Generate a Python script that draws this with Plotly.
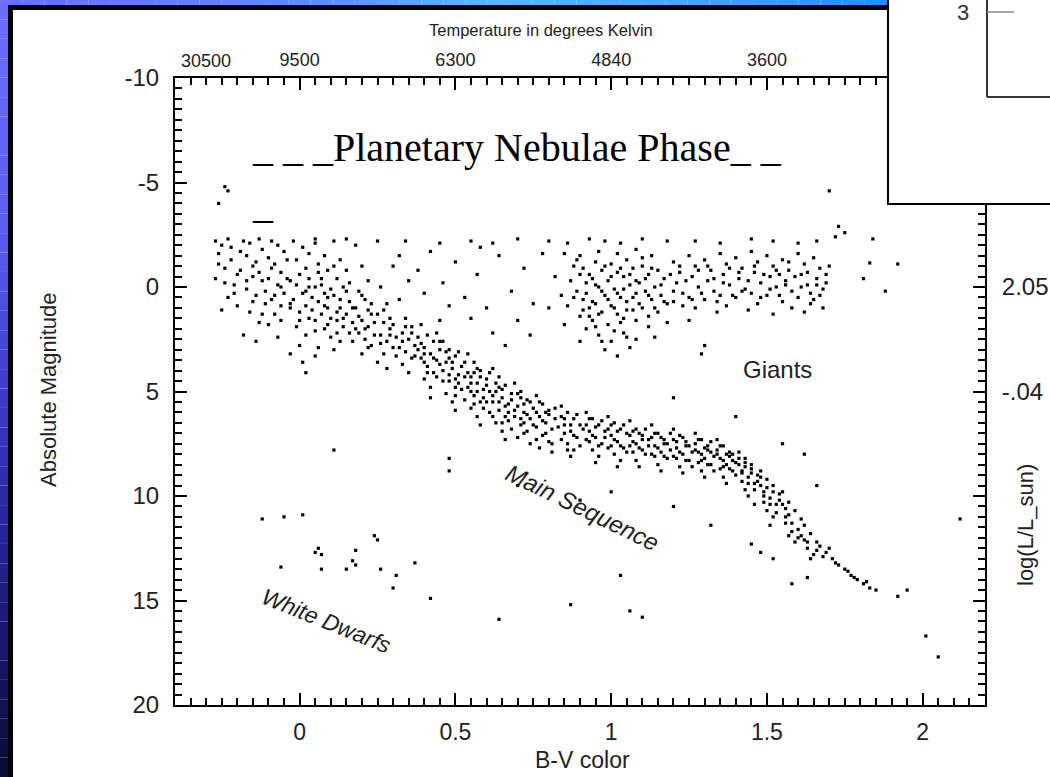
import plotly.graph_objects as go

# ---------------- data (B-V colour, absolute magnitude) ----------------
ms_stars = [
    (-0.27,-2.2),(-0.25,-2.0),(-0.23,-2.3),(-0.26,-1.6),(-0.22,-1.3),(-0.24,-0.9),(-0.27,-0.4),(-0.21,-0.1),(-0.23,0.5),(-0.25,1.1),(-0.22,-1.9),(-0.2,-0.6),
    (-0.18,-2.2),(-0.16,-2.1),(-0.13,-2.3),(-0.12,-1.8),(-0.17,-1.5),(-0.14,-1.2),(-0.19,-0.8),(-0.15,-0.5),(-0.12,-0.3),(-0.17,0.1),(-0.14,0.4),(-0.11,0.8),(-0.16,1.2),(-0.13,1.7),(-0.18,2.3),(-0.15,-1.0),
    (-0.09,-2.2),(-0.07,-2.0),(-0.05,-1.7),(-0.1,-1.4),(-0.08,-1.1),(-0.06,-0.7),(-0.1,-0.4),(-0.07,-0.1),(-0.05,0.3),(-0.09,0.6),(-0.06,0.9),(-0.08,1.3),(-0.1,1.8),(-0.07,2.4),(-0.04,-1.3),(-0.06,0.0),
    (-0.02,-2.2),(0.01,-1.9),(0.03,-1.6),(-0.01,-1.3),(0.02,-0.9),(0.0,-0.6),(-0.03,-0.3),(0.03,0.0),(0.01,0.3),(-0.02,0.6),(0.02,0.9),(0.0,1.2),(0.03,1.5),(-0.01,1.9),(0.02,2.3),(0.0,2.8),(0.01,3.6),(-0.03,1.0),(0.04,0.5),(0.03,-0.4),
    (0.05,-2.1),(0.08,-1.5),(0.06,-1.1),(0.09,-0.8),(0.07,-0.4),(0.05,0.0),(0.08,0.3),(0.06,0.7),(0.09,1.0),(0.07,1.3),(0.05,1.6),(0.08,2.0),(0.1,2.4),(0.06,2.9),(0.09,0.5),(0.07,-0.1),(0.1,1.5),
    (0.11,-2.2),(0.13,-1.3),(0.15,-0.8),(0.12,-0.4),(0.14,0.0),(0.11,0.4),(0.16,0.7),(0.13,1.0),(0.15,1.3),(0.12,1.6),(0.14,1.9),(0.16,2.2),(0.13,2.6),(0.11,3.0),(0.15,0.2),(0.12,1.2),(0.17,1.7),
    (0.18,-2.0),(0.2,-1.0),(0.22,-0.3),(0.19,0.2),(0.21,0.6),(0.18,1.0),(0.23,1.3),(0.2,1.6),(0.22,1.9),(0.19,2.2),(0.21,2.5),(0.23,2.8),(0.2,3.2),(0.18,2.0),(0.22,1.1),(0.24,2.3),
    (0.25,-2.2),(0.26,0.0),(0.28,0.8),(0.25,1.3),(0.27,1.7),(0.29,2.0),(0.26,2.3),(0.28,2.6),(0.3,2.9),(0.27,3.2),(0.25,3.6),(0.29,1.5),(0.31,2.4),(0.28,3.9),
    (0.32,0.6),(0.34,1.5),(0.36,1.9),(0.33,2.2),(0.35,2.5),(0.37,2.8),(0.34,3.1),(0.36,3.4),(0.33,3.7),(0.35,4.1),(0.38,2.4),(0.32,2.9),(0.37,3.3),(0.34,-2.2),
    (0.39,1.8),(0.41,2.3),(0.43,2.6),(0.4,2.9),(0.42,3.2),(0.44,3.5),(0.41,3.8),(0.43,4.1),(0.4,4.4),(0.42,4.8),(0.45,3.0),(0.39,3.4),(0.44,2.2),(0.42,5.3),(0.4,3.6),
    (0.46,2.6),(0.48,3.0),(0.5,3.3),(0.47,3.6),(0.49,3.9),(0.51,4.2),(0.48,4.5),(0.5,4.8),(0.47,5.1),(0.49,5.5),(0.52,3.8),(0.46,4.0),(0.51,4.6),(0.48,3.4),(0.5,5.9),(0.53,4.3),
    (0.54,3.2),(0.56,3.6),(0.58,4.0),(0.55,4.3),(0.57,4.6),(0.59,4.9),(0.56,5.2),(0.58,5.5),(0.55,5.8),(0.57,6.2),(0.6,4.4),(0.54,4.8),(0.59,5.3),(0.56,4.1),(0.58,6.6),(0.61,5.0),(0.55,5.0),
    (0.62,3.9),(0.64,4.3),(0.66,4.7),(0.63,5.0),(0.65,5.3),(0.67,5.6),(0.64,5.9),(0.66,6.2),(0.63,6.5),(0.65,6.9),(0.68,5.1),(0.62,5.5),(0.67,6.0),(0.64,4.8),(0.66,7.3),(0.61,6.0),
    (0.69,4.6),(0.71,5.0),(0.73,5.4),(0.7,5.7),(0.72,6.0),(0.74,6.3),(0.71,6.6),(0.73,6.9),(0.7,7.2),(0.75,5.8),(0.69,6.2),(0.72,6.5),(0.74,7.5),(0.71,5.3),
    (0.76,5.2),(0.78,5.6),(0.8,5.9),(0.77,6.2),(0.79,6.5),(0.81,6.8),(0.78,7.1),(0.8,7.4),(0.77,7.7),(0.82,6.3),(0.76,6.7),(0.79,6.0),(0.81,7.9),
    (0.84,5.7),(0.86,6.0),(0.88,6.3),(0.85,6.6),(0.87,6.9),(0.89,7.2),(0.86,7.5),(0.88,7.8),(0.85,7.0),(0.9,6.6),(0.84,6.2),(0.87,8.1),
    (0.92,6.0),(0.94,6.3),(0.96,6.6),(0.93,6.9),(0.95,7.2),(0.97,7.5),(0.94,7.8),(0.96,8.1),(0.93,7.4),(0.98,6.9),(0.92,6.6),(0.95,8.4),
    (0.99,6.2),(1.01,6.5),(1.03,6.8),(1.0,7.1),(1.02,7.4),(1.04,7.7),(1.01,8.0),(1.03,8.3),(1.0,7.6),(1.05,7.0),(0.99,6.8),(1.02,8.6),
    (1.06,6.4),(1.08,6.8),(1.1,7.1),(1.07,7.4),(1.09,7.7),(1.11,8.0),(1.08,8.3),(1.1,7.3),(1.07,7.9),(1.12,7.6),(1.06,7.1),(1.09,8.6),
    (1.13,6.6),(1.15,7.0),(1.17,7.3),(1.14,7.6),(1.16,7.9),(1.18,8.2),(1.15,8.5),(1.17,7.5),(1.14,8.1),(1.19,7.8),(1.13,7.2),(1.16,8.8),
    (1.2,6.8),(1.22,7.1),(1.24,7.4),(1.21,7.7),(1.23,8.0),(1.25,8.3),(1.22,8.6),(1.24,7.6),(1.21,8.2),(1.26,7.9),(1.2,7.3),(1.23,8.9),
    (1.27,7.0),(1.29,7.3),(1.31,7.6),(1.28,7.9),(1.3,8.2),(1.32,8.5),(1.29,8.8),(1.31,7.8),(1.28,8.4),(1.33,8.1),(1.27,7.5),(1.3,9.1),(1.32,7.4),(1.29,8.0),
    (1.34,7.3),(1.36,7.6),(1.38,7.9),(1.35,8.2),(1.37,8.5),(1.39,8.8),(1.36,9.1),(1.38,8.1),(1.35,8.7),(1.4,8.4),(1.34,7.8),(1.37,9.4),(1.39,8.0),(1.36,8.3),
    (1.41,7.9),(1.43,8.2),(1.45,8.5),(1.42,8.8),(1.44,9.1),(1.46,9.4),(1.43,9.7),(1.45,8.9),(1.42,9.3),(1.47,9.0),(1.41,8.5),(1.44,10.0),(1.46,10.4),(1.43,8.6),
    (1.48,8.8),(1.5,9.2),(1.52,9.5),(1.49,9.8),(1.51,10.1),(1.53,10.4),(1.5,10.7),(1.52,11.0),(1.49,10.3),(1.54,9.9),(1.48,9.5),(1.51,11.4),
    (1.55,9.8),(1.57,10.3),(1.59,10.7),(1.56,11.0),(1.58,11.3),(1.6,11.6),(1.57,11.9),(1.59,12.2),(1.56,10.6),(1.61,11.1),
    (1.62,11.4),(1.64,11.8),(1.66,12.2),(1.63,12.5),(1.65,12.8),(1.67,12.4),(1.64,13.0),(1.62,12.1),
    (1.69,12.7),(1.71,13.0),(1.73,13.3),(1.7,12.5),(1.75,13.5),(1.77,13.8),(1.79,14.0),(1.76,13.6),(1.81,14.2),(1.83,14.4),(1.85,14.5),(1.82,14.1),
]

ms_extra = [
    (-0.26,-1.1),(-0.24,-0.2),(-0.21,0.3),(-0.19,-1.7),(-0.2,0.9),(-0.17,-0.3),(-0.15,0.7),(-0.13,-0.7),(-0.11,0.2),(-0.12,1.3),
    (-0.09,-0.9),(-0.08,0.4),(-0.06,1.6),(-0.04,-0.4),(-0.03,0.8),(-0.01,-0.1),(0.0,1.6),(0.02,0.2),(0.04,1.1),(0.05,2.1),
    (0.06,-0.7),(0.08,0.9),(0.09,1.8),(0.1,0.1),(0.11,-1.0),(0.12,2.2),(0.13,0.6),(0.14,1.5),(0.16,-0.2),(0.17,1.0),
    (0.17,2.6),(0.19,1.4),(0.2,0.4),(0.21,2.0),(0.22,2.9),(0.23,0.8),(0.24,1.7),(0.26,2.7),(0.27,1.1),(0.29,2.3),
    (0.3,1.8),(0.31,3.3),(0.33,2.6),(0.34,1.9),(0.36,2.2),(0.38,3.0),(-0.03,3.2),(0.05,3.3),(-0.14,2.6),(0.02,4.1),
    (0.39,2.7),(0.4,3.2),(0.41,4.1),(0.43,3.4),(0.44,4.3),(0.45,2.6),(0.45,3.7),(0.46,4.5),(0.47,3.1),(0.48,4.2),
    (0.49,3.6),(0.5,4.4),(0.5,5.2),(0.51,3.1),(0.52,4.9),(0.53,3.6),(0.53,5.4),(0.54,4.1),(0.55,4.6),(0.56,5.6),
    (0.57,3.9),(0.57,5.0),(0.58,4.3),(0.59,5.8),(0.6,4.7),(0.6,5.5),(0.61,4.1),(0.62,5.2),(0.62,6.2),(0.63,4.6),
    (0.64,5.5),(0.65,6.5),(0.65,4.9),(0.66,5.7),(0.67,6.4),(0.68,5.4),(0.68,6.8),(0.69,5.9),(0.7,5.1),(0.71,6.3),
    (0.72,5.6),(0.72,7.0),(0.73,6.1),(0.74,5.5),(0.75,6.6),(0.76,6.0),(0.76,7.3),(0.77,5.5),(0.78,6.4),(0.79,7.0),
    (0.8,6.1),(0.81,7.5),(0.82,5.8),(0.83,6.7),(0.84,7.3),(0.85,6.3),(0.86,7.8),(0.87,6.6),(0.88,7.1),(0.89,6.1),
    (0.9,7.6),(0.91,6.8),(0.92,7.3),(0.93,6.3),(0.94,7.1),(0.95,6.7),(0.96,7.6),(0.97,6.4),(0.98,7.2),(0.99,7.7),
    (1.0,6.6),(1.01,7.3),(1.02,6.9),(1.03,7.6),(1.04,6.6),(1.05,7.9),(1.06,7.6),(1.07,6.9),(1.08,7.5),(1.09,7.0),
    (1.1,7.8),(1.11,6.8),(1.12,7.3),(1.13,8.0),(1.14,7.0),(1.15,7.7),(1.16,7.2),(1.17,8.1),(1.18,7.5),(1.19,7.0),
    (1.2,8.1),(1.21,7.4),(1.22,7.9),(1.23,7.2),(1.24,8.3),(1.25,7.6),(1.26,8.6),(1.27,7.8),(1.28,7.3),(1.29,8.3),
    (1.3,7.7),(1.31,8.5),(1.32,7.9),(1.33,8.8),(1.34,8.0),(1.35,7.6),(1.36,8.6),(1.37,8.0),(1.38,8.7),(1.39,8.3),
    (1.4,9.0),(1.41,8.2),(1.42,8.9),(1.43,8.4),(1.44,9.4),(1.45,8.7),(1.46,9.7),(1.47,9.3),(1.48,9.1),(1.49,10.0),
    (1.5,9.6),(1.51,10.4),(1.52,9.8),(1.53,10.8),(1.54,10.2),(1.55,10.4),(1.56,11.3),(1.57,10.9),(1.58,11.7),(1.6,12.0),
    (1.61,11.9),(1.63,12.2),(1.66,12.6),(1.68,12.9),(1.72,13.2),(1.78,13.9),
]

giant_stars = [
    (0.55,-2.2),(0.62,-2.1),(0.7,-2.3),(0.8,-2.2),(0.86,-2.1),(0.93,-2.3),(0.98,-2.2),(1.03,-2.1),(1.1,-2.3),(1.18,-2.2),
    (1.27,-2.2),(1.35,-2.1),(1.45,-2.3),(1.52,-2.2),(1.6,-2.1),(1.66,-2.2),(1.72,-2.4),(0.45,-2.1),(0.15,-2.3),(0.05,-2.3),
    (0.88,-1.0),(0.9,-0.6),(0.92,-0.2),(0.89,0.2),(0.91,0.6),(0.93,1.0),(0.9,1.4),(0.95,-1.2),(0.97,-0.8),(0.94,-0.4),
    (0.96,0.0),(0.98,0.4),(0.95,0.8),(0.97,1.2),(0.94,1.6),(1.0,-1.1),(1.02,-0.7),(0.99,-0.3),(1.01,0.1),(1.03,0.5),
    (1.0,0.9),(1.02,1.3),(0.99,1.8),(1.05,-1.3),(1.07,-0.9),(1.04,-0.5),(1.06,-0.1),(1.08,0.3),(1.05,0.7),(1.07,1.1),
    (1.04,1.5),(1.1,-1.0),(1.12,-0.6),(1.09,-0.2),(1.11,0.2),(1.13,0.6),(1.1,1.0),(1.12,1.4),(1.15,-0.8),(1.17,-0.4),
    (1.14,0.0),(1.16,0.4),(1.18,0.8),(1.15,1.2),
    (0.92,2.0),(0.96,2.3),(1.0,2.6),(1.04,2.2),(1.08,2.5),(0.98,3.0),(1.06,2.9),(1.02,3.3),(0.9,2.6),(1.12,1.9),
    (0.85,1.8),(1.14,2.4),(1.3,2.8),(1.29,3.2),
    (0.85,-1.6),(0.9,-1.5),(0.96,-1.7),(1.02,-1.6),(1.08,-1.8),(1.13,-1.5),(0.82,-0.5),(0.84,0.4),(0.8,1.0),(0.86,0.9),
    (1.2,-1.2),(1.22,-0.7),(1.21,-0.2),(1.23,0.3),(1.2,0.7),(1.25,-1.5),(1.27,-1.0),(1.26,-0.5),(1.28,0.0),(1.25,0.5),
    (1.27,1.0),(1.3,-1.3),(1.32,-0.8),(1.31,-0.3),(1.33,0.2),(1.3,0.6),(1.35,-1.6),(1.37,-1.1),(1.36,-0.6),(1.38,-0.1),
    (1.35,0.4),(1.37,0.9),(1.4,-1.4),(1.42,-0.9),(1.41,-0.4),(1.43,0.1),(1.4,0.5),(1.45,-1.7),(1.47,-1.2),(1.46,-0.7),
    (1.48,-0.2),(1.45,0.3),(1.47,0.8),(1.5,-1.5),(1.52,-1.0),(1.51,-0.5),(1.53,0.0),(1.5,0.4),(1.55,-1.3),(1.57,-0.8),
    (1.56,-0.3),(1.58,0.2),(1.55,0.7),(1.6,-1.6),(1.62,-1.1),(1.61,-0.6),(1.63,-0.1),(1.6,0.5),(1.65,-1.4),(1.67,-0.9),
    (1.66,-0.4),(1.68,0.1),(1.65,0.6),(1.7,-1.0),(1.69,-0.2),(1.62,1.2),(1.68,1.0),(1.58,1.0),(1.52,1.3),(1.44,1.1),
    (1.34,1.2),(1.25,1.6),(1.18,1.7),(1.64,0.3),(1.54,-0.6),
]

giant_extra = [
    (0.87,-0.3),(0.88,0.5),(0.89,-1.3),(0.91,-0.9),(0.91,1.1),(0.92,0.3),(0.93,-0.6),(0.94,0.7),(0.95,-0.1),(0.96,1.3),
    (0.97,0.2),(0.98,-1.0),(0.99,0.6),(1.0,-0.5),(1.01,1.0),(1.02,0.3),(1.03,-0.9),(1.04,0.1),(1.05,1.1),(1.06,-0.6),
    (1.07,0.5),(1.08,-0.3),(1.09,0.8),(1.1,-1.4),(1.11,-0.4),(1.12,0.4),(1.13,-0.9),(1.14,1.0),(1.16,-0.1),(1.17,0.7),
    (1.19,-0.6),(1.2,0.2),(1.22,-1.0),(1.23,0.9),(1.24,-0.3),(1.26,0.6),(1.28,-0.8),(1.29,0.3),(1.31,-1.0),(1.33,-0.4),
    (1.34,0.7),(1.36,-0.2),(1.38,-0.9),(1.39,0.4),(1.41,-0.7),(1.42,0.2),(1.44,-0.3),(1.46,-1.0),(1.48,0.5),(1.49,-0.6),
    (1.51,0.1),(1.53,-0.8),(1.54,0.4),(1.56,-0.1),(1.57,-1.2),(1.59,-0.5),(1.61,0.0),(1.63,-0.7),(1.64,0.8),(1.66,-0.1),
    (1.67,0.4),(1.69,-0.6),(0.95,1.9),(1.01,2.1),(1.03,1.7),(0.93,1.4),(1.08,1.6),(0.97,2.6),(1.05,2.4),
]

field_stars = [
    (0.32,-1.5),(0.38,-0.8),(0.42,-1.7),(0.46,-0.2),(0.5,-1.2),(0.53,0.5),(0.57,-0.6),(0.6,1.0),(0.64,-1.5),(0.68,0.2),
    (0.72,-0.9),(0.75,0.8),(0.78,-1.6),(0.7,1.6),(0.62,2.2),(0.55,1.5),(0.48,0.9),(0.4,0.3),(0.35,-0.3),(0.45,1.6),
    (0.66,2.8),(0.74,2.3),(0.58,-1.9),(0.3,-1.0),
    (-0.26,-4.0),(-0.24,-4.8),(-0.23,-4.6),
    (1.84,-2.3),(1.83,-1.15),(1.92,-1.1),(1.81,-0.4),(1.88,0.2),(1.7,-4.6),(1.73,-2.9),(1.75,-2.6),
    (0.11,7.8),(0.48,8.2),(0.48,8.8),(0.7,9.5),(0.9,10.2),(1.0,9.8),(1.2,10.5),(1.32,11.4),(1.48,12.7),(1.45,12.3),
    (1.52,13.0),(1.58,14.2),(1.63,13.9),(1.2,5.3),(1.4,6.2),(1.55,7.5),(1.62,8.0),(1.66,9.5),
    (0.64,15.9),(0.87,15.2),(1.06,15.5),(1.1,15.8),(1.03,13.8),(2.12,11.1),(1.95,14.5),(1.92,14.8),(2.01,16.7),(2.05,17.7),
]

dwarf_stars = [
    (-0.12,11.1),(-0.05,11.0),(0.01,10.9),(0.06,12.5),(0.07,12.8),(0.24,11.9),(0.25,12.1),(0.05,12.7),(0.18,12.6),
    (-0.06,13.4),(0.07,13.5),(0.15,13.5),(0.17,13.1),(0.18,13.3),(0.26,13.5),(0.31,13.8),(0.3,14.4),(0.37,13.2),(0.42,14.9),
]

x_ticks = [0, 0.5, 1, 1.5, 2]
x_tick_text = ["0", "0.5", "1", "1.5", "2"]
y_ticks = [-10, -5, 0, 5, 10, 15, 20]
y_tick_text = ["-10", "-5", "0", "5", "10", "15", "20"]
lum_ticks = [-10, -5, 0, 5, 10, 15, 20]
lum_tick_text = ["", "", "2.05", "-.04", "", "", ""]
temp_ticks = [0, 0.5, 1, 1.5, 2]
temp_tick_text = ["9500", "6300", "4840", "3600", ""]
temp_extra = (-0.3, "30500")

# ---------------- layout geometry ----------------
W, H = 1050, 777
ML, MR, MT, MB = 175, 65, 78, 72
PW = W - ML - MR
PH = H - MT - MB

def px(xp):
    return (xp - ML) / PW

def py(yp):
    return (H - MB - yp) / PH

all_stars = ms_stars + ms_extra + giant_stars + giant_extra + field_stars + dwarf_stars
bv = [s[0] for s in all_stars]
mag = [s[1] for s in all_stars]

fig = go.Figure()
fig.add_trace(go.Scatter(
    x=bv, y=mag, mode="markers",
    marker=dict(symbol="square", size=3.2, color="black", line=dict(width=0)),
    showlegend=False, hoverinfo="skip"))
fig.add_trace(go.Scatter(x=[None], y=[None], xaxis="x2", yaxis="y2",
                         mode="markers", showlegend=False, hoverinfo="skip"))

font_main = "Liberation Sans, Arial, sans-serif"
axis_common = dict(showline=True, linecolor="black", linewidth=2, ticks="inside",
                   ticklen=12, tickwidth=2, tickcolor="black", showgrid=False,
                   zeroline=False, automargin=False)
minor_x = dict(ticks="inside", ticklen=7, tickwidth=1.5, tickcolor="black",
               tickmode="linear", tick0=0, dtick=0.05)
minor_y = dict(ticks="inside", ticklen=7, tickwidth=1.5, tickcolor="black",
               tickmode="linear", tick0=0, dtick=0.5)

fig.update_layout(
    width=W, height=H, autosize=False,
    margin=dict(l=ML, r=MR, t=MT, b=MB, pad=0, autoexpand=False),
    paper_bgcolor="white", plot_bgcolor="white",
    font=dict(family=font_main, color="#222"),
    xaxis=dict(range=[-0.4, 2.2], tickmode="array", tickvals=x_ticks, ticktext=x_tick_text,
               tickfont=dict(size=23, color="#222"), ticklabelstandoff=5,
               minor=minor_x, **axis_common),
    xaxis2=dict(range=[-0.4, 2.2], overlaying="x", side="top", tickmode="array",
                tickvals=temp_ticks, ticktext=temp_tick_text,
                tickfont=dict(size=18, color="#222"), ticklabelstandoff=3,
                minor=minor_x, **axis_common),
    yaxis=dict(range=[20, -10], tickmode="array", tickvals=y_ticks, ticktext=y_tick_text,
               tickfont=dict(size=24, color="#222"), ticklabelstandoff=9,
               minor=minor_y, **axis_common),
    yaxis2=dict(range=[20, -10], overlaying="y", side="right", tickmode="array",
                tickvals=lum_ticks, ticktext=lum_tick_text,
                tickfont=dict(size=24, color="#222"), ticklabelstandoff=10,
                minor=minor_y, **axis_common),
)

# ---------------- decorative frame ----------------
def lerp_color(stops, t):
    for (t0, c0), (t1, c1) in zip(stops[:-1], stops[1:]):
        if t0 <= t <= t1:
            f = (t - t0) / (t1 - t0) if t1 > t0 else 0
            return "rgb(%d,%d,%d)" % tuple(round(a + (b - a) * f) for a, b in zip(c0, c1))
    return "rgb(%d,%d,%d)" % stops[-1][1]

def pshape(**kw):
    d = dict(xref="paper", yref="paper", layer="above")
    d.update(kw)
    return d

shapes = []
left_stops = [(0, (108, 110, 255)), (0.3, (92, 92, 245)), (0.5, (62, 60, 205)),
              (0.7, (38, 34, 150)), (1.0, (10, 10, 52))]
nb = 40
for i in range(nb):
    y0 = H * i / nb
    y1 = H * (i + 1) / nb
    shapes.append(pshape(type="rect", x0=px(0), x1=px(8), y0=py(y1), y1=py(y0),
                         fillcolor=lerp_color(left_stops, (i + 0.5) / nb), line=dict(width=0)))
top_stops = [(0, (108, 110, 255)), (0.35, (95, 140, 255)), (0.55, (90, 180, 255)),
             (0.8, (70, 160, 255)), (1.0, (40, 140, 255))]
for i in range(nb):
    x0 = 887 * i / nb
    x1 = 887 * (i + 1) / nb
    shapes.append(pshape(type="rect", x0=px(x0), x1=px(x1), y0=py(5), y1=py(0),
                         fillcolor=lerp_color(top_stops, (i + 0.5) / nb), line=dict(width=0)))
shapes.append(pshape(type="rect", x0=px(8), x1=px(13), y0=py(H), y1=py(5),
                     fillcolor="black", line=dict(width=0)))
shapes.append(pshape(type="rect", x0=px(8), x1=px(887), y0=py(10), y1=py(5),
                     fillcolor="black", line=dict(width=0)))
# inset box (top right)
shapes.append(pshape(type="rect", x0=px(887), x1=px(W), y0=py(205), y1=py(0),
                     fillcolor="white", line=dict(width=0)))
shapes.append(pshape(type="line", x0=px(888), x1=px(888), y0=py(205), y1=py(0),
                     line=dict(color="black", width=2)))
shapes.append(pshape(type="line", x0=px(887), x1=px(W), y0=py(204), y1=py(204),
                     line=dict(color="black", width=2)))
shapes.append(pshape(type="line", x0=px(987), x1=px(987), y0=py(97), y1=py(0),
                     line=dict(color="#333", width=2)))
shapes.append(pshape(type="line", x0=px(987), x1=px(W), y0=py(97), y1=py(97),
                     line=dict(color="#333", width=2)))
shapes.append(pshape(type="line", x0=px(987), x1=px(1014), y0=py(12), y1=py(12),
                     line=dict(color="#888", width=1.5)))
fig.update_layout(shapes=shapes)

# ---------------- text ----------------
def ptext(text, xp, yp, size, **kw):
    d = dict(text=text, xref="paper", yref="paper", x=px(xp), y=py(yp), showarrow=False,
             xanchor="center", yanchor="middle", font=dict(size=size, color="#222"))
    d.update(kw)
    return d

serif = "Liberation Serif, Times New Roman, serif"
ann = [
    ptext("Temperature in degrees Kelvin", 541, 30, 16.5),
    dict(text=temp_extra[1], xref="x", yref="paper", x=temp_extra[0], y=py(61),
         xanchor="center", yanchor="middle", showarrow=False, font=dict(size=18, color="#222")),
    ptext("B-V color", 582, 760, 23),
    ptext("Absolute Magnitude", 48, 390, 22, textangle=-90),
    ptext("log(L/L_sun)", 1025, 525, 22, textangle=-90),
    dict(text="Giants", xref="x", yref="y", x=1.535, y=3.97, showarrow=False,
         xanchor="center", yanchor="middle", font=dict(size=24, color="#222")),
    dict(text="<i>Main Sequence</i>", xref="x", yref="y", x=0.907, y=10.57, textangle=26,
         showarrow=False, xanchor="center", yanchor="middle", font=dict(size=24, color="#222")),
    dict(text="<i>White Dwarfs</i>", xref="x", yref="y", x=0.087, y=15.98, textangle=22,
         showarrow=False, xanchor="center", yanchor="middle", font=dict(size=23, color="#222")),
    ptext("_ _ _Planetary Nebulae Phase_ _", 250, 172, 40, xanchor="left", yanchor="bottom",
          font=dict(family=serif, size=40, color="black")),
    ptext("_", 250, 229, 40, xanchor="left", yanchor="bottom",
          font=dict(family=serif, size=40, color="black")),
    ptext("3", 963, 13, 22, font=dict(size=22, color="#333")),
]
fig.update_layout(annotations=ann)

post = ("document.body.style.margin='0px';"
        "document.documentElement.style.overflow='hidden';"
        "document.body.style.overflow='hidden';")
fig.write_html("out.html", config={"responsive": False, "displayModeBar": False},
               post_script=post)
